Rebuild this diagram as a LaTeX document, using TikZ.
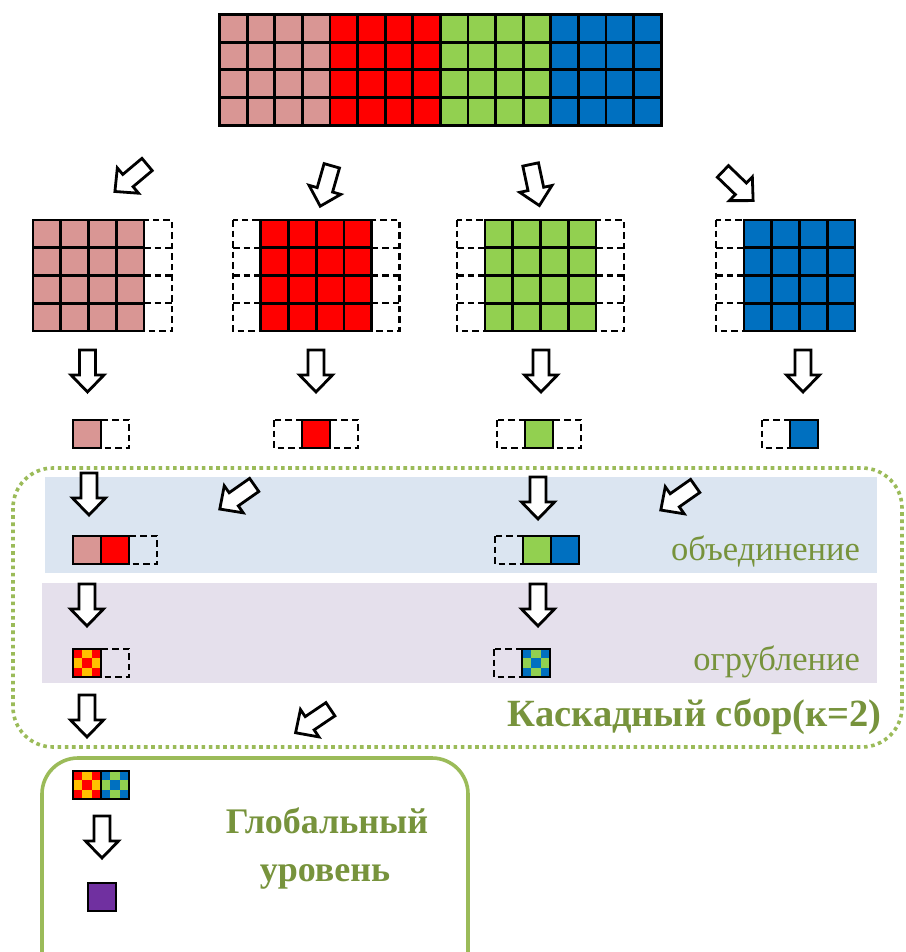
\documentclass[tikz,border=0pt]{standalone}
\usepackage{fontspec}
\setmainfont{Liberation Serif}
\definecolor{cpink}{HTML}{D99694}
\definecolor{cred}{HTML}{FF0000}
\definecolor{cgreen}{HTML}{92D050}
\definecolor{cblue}{HTML}{0070C0}
\definecolor{corange}{HTML}{FFC000}
\definecolor{cpurple}{HTML}{7030A0}
\definecolor{tgreen}{HTML}{77933C}
\definecolor{bgreen}{HTML}{9BBB59}
\definecolor{bandblue}{HTML}{DBE5F1}
\definecolor{bandpurple}{HTML}{E5E0EC}
\tikzset{
  gl/.style={line width=2.8pt, black},
  dl/.style={line width=2.2pt, black, dash pattern=on 6.5pt off 4pt},
  blockarrow/.pic={\draw[line width=2.8pt, fill=white, line join=miter]
     (-21,-8) -- (4,-8) -- (4,-16.5) -- (21,0) -- (4,16.5) -- (4,8) -- (-21,8) -- cycle;},
  lbl/.style={inner sep=0pt, text=tgreen, font=\fontsize{34.5}{40}\selectfont},
  blbl/.style={inner sep=0pt, text=tgreen, font=\fontsize{38.5}{44}\selectfont\bfseries},
  glbl/.style={inner sep=0pt, text=tgreen, font=\fontsize{36}{42}\selectfont\bfseries},
}
% x, y, cols, rows, cell w, cell h, colour
\newcommand{\gridblk}[7]{%
  \fill[#7] (#1,#2) rectangle ({#1+#3*#5},{#2+#4*#6});
  \foreach \i in {1,...,#3}{\draw[gl] ({#1+\i*#5},#2) -- ({#1+\i*#5},{#2+#4*#6});}
  \foreach \j in {1,...,#4}{\draw[gl] (#1,{#2+\j*#6}) -- ({#1+#3*#5},{#2+\j*#6});}
  \draw[gl] (#1,#2) rectangle ({#1+#3*#5},{#2+#4*#6});
}
% dashed column of 4 cells: x, y, cell
\newcommand{\dashcol}[3]{%
  \draw[dl] (#1,#2) rectangle ({#1+#3},{#2+4*#3});
  \foreach \j in {1,2,3}{\draw[dl] (#1,{#2+\j*#3}) -- ({#1+#3},{#2+\j*#3});}
}
% dashed single cell: x, y
\newcommand{\dashcell}[2]{\draw[dl] (#1,#2) rectangle ({#1+28},{#2+28});}
% solid single cell: x, y, colour
\newcommand{\solidcell}[3]{\filldraw[gl, fill=#3] (#1,#2) rectangle ({#1+28},{#2+28});}
% checker cell: x, y, corner colour, other colour
\newcommand{\checkcell}[4]{%
  \fill[#4] (#1,#2) rectangle ({#1+28},{#2+28});
  \foreach \a/\b in {0/0,2/0,1/1,0/2,2/2}{\fill[#3] ({#1+\a*28/3},{#2+\b*28/3}) rectangle ++(28/3,28/3);}
  \draw[gl] (#1,#2) rectangle ({#1+28},{#2+28});
}
\begin{document}
\begin{tikzpicture}[x=1pt,y=-1pt]
\useasboundingbox (0,0) rectangle (905,952);
\clip (0,0) rectangle (905,952);
\fill[white] (0,0) rectangle (905,952);

% top grid
\gridblk{219.5}{14.5}{4}{4}{27.6}{27.7}{cpink}
\gridblk{329.9}{14.5}{4}{4}{27.6}{27.7}{cred}
\gridblk{440.3}{14.5}{4}{4}{27.6}{27.7}{cgreen}
\gridblk{550.7}{14.5}{4}{4}{27.6}{27.7}{cblue}
\draw[gl] (219.5,14.5) rectangle (661.1,125.3);

% split grids
\dashcol{144}{220}{27.75}
\gridblk{33}{220}{4}{4}{27.75}{27.75}{cpink}
\dashcol{233}{220}{27.75}
\dashcol{371.75}{220}{27.75}
\gridblk{260.75}{220}{4}{4}{27.75}{27.75}{cred}
\dashcol{457.25}{220}{27.75}
\dashcol{596}{220}{27.75}
\gridblk{485}{220}{4}{4}{27.75}{27.75}{cgreen}
\dashcol{716.25}{220}{27.75}
\gridblk{744}{220}{4}{4}{27.75}{27.75}{cblue}

% small cells
\dashcell{101}{420}\solidcell{73}{420}{cpink}
\dashcell{274}{420}\dashcell{330}{420}\solidcell{302}{420}{cred}
\dashcell{497}{420}\dashcell{553}{420}\solidcell{525}{420}{cgreen}
\dashcell{762}{420}\solidcell{790}{420}{cblue}

% cascade region
\draw[bgreen, line width=3.6pt, dash pattern=on 3.6pt off 3.6pt, rounded corners=40pt] (13,468) rectangle (902,747);
\fill[bandblue] (45,477) rectangle (877,573);
\fill[bandpurple] (42,583) rectangle (877,683);

\dashcell{129}{536}\solidcell{73}{536}{cpink}\solidcell{101}{536}{cred}
\dashcell{495}{536}\solidcell{523}{536}{cgreen}\solidcell{551}{536}{cblue}

\dashcell{101}{649}\checkcell{73}{649}{cred}{corange}
\dashcell{494}{649}\checkcell{522}{649}{cblue}{cgreen}

\node[lbl, anchor=base east] (merge) at (860,560) {объединение};
\node[lbl, anchor=base east] (coarse) at (860,670) {огрубление};
\node[blbl, anchor=base east] (cascade) at (882,726) {Каскадный сбор(к=2)};

% global box
\draw[bgreen, line width=3.6pt, rounded corners=36pt] (42,758) rectangle (468,1010);
\checkcell{73}{771}{cred}{corange}
\checkcell{101}{771}{cblue}{cgreen}
\solidcell{88}{883}{cpurple}
\node[glbl, anchor=base] (glob1) at (327,833) {Глобальный};
\node[glbl, anchor=base] (glob2) at (325,881) {уровень};

% arrows
\pic[rotate=220] at (131,178) {blockarrow};
\pic[rotate=254] at (326,186) {blockarrow};
\pic[rotate=282] at (535,185) {blockarrow};
\pic[rotate=316] at (738,186) {blockarrow};
\foreach \x in {87.5,316,541,803}{\pic[rotate=270] at (\x,371) {blockarrow};}
\pic[rotate=270] at (89,494) {blockarrow};
\pic[rotate=215] at (237,497) {blockarrow};
\pic[rotate=270] at (538,498) {blockarrow};
\pic[rotate=215] at (678,498) {blockarrow};
\pic[rotate=270] at (87,605) {blockarrow};
\pic[rotate=270] at (538,605) {blockarrow};
\pic[rotate=270] at (87,716) {blockarrow};
\pic[rotate=214] at (313,721) {blockarrow};
\pic[rotate=270] at (102,837) {blockarrow};
\end{tikzpicture}
\end{document}
